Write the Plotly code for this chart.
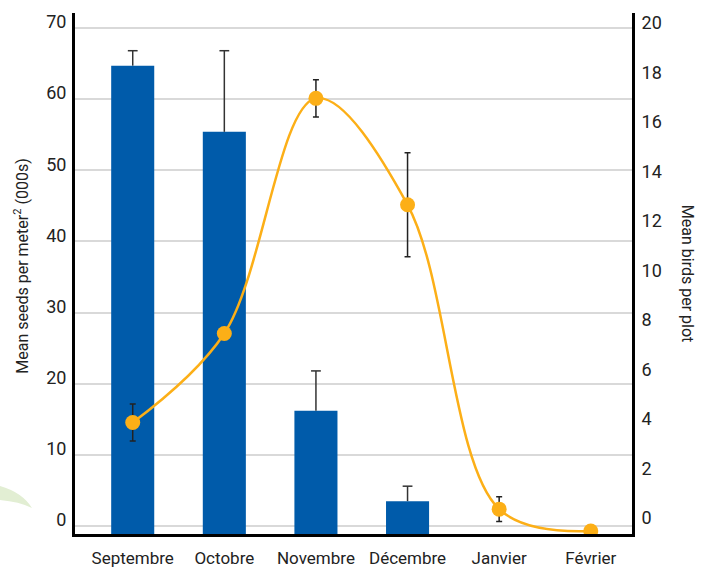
import plotly.graph_objects as go

months = ["Septembre", "Octobre", "Novembre", "Décembre", "Janvier", "Février"]
seeds = [64.7, 55.4, 16.2, 3.5, None, None]
seeds_err = [2.1, 11.4, 5.6, 2.1, None, None]
birds = [4.1, 7.7, 17.2, 12.9, 0.6, -0.28]
birds_err = [0.75, 0, 0.75, 2.1, 0.5, 0]

left_ticks = [0, 10, 20, 30, 40, 50, 60, 70]
right_ticks = [0, 2, 4, 6, 8, 10, 12, 14, 16, 18, 20]

left_range = [-1.12, 72.1]
right_range = [-0.404, 20.65]

FONT = "Roboto, sans-serif"
BLUE = "#005BAA"
ORANGE = "#FCAF17"

xs = list(range(len(months)))

fig = go.Figure()
# bars rise from the bottom axis line
fig.add_trace(go.Bar(
    x=xs,
    y=[(v - left_range[0]) if v is not None else None for v in seeds],
    base=[left_range[0]] * len(months),
    width=0.47,
    marker=dict(color=BLUE, line=dict(width=0)),
    yaxis="y", showlegend=False, hoverinfo="skip",
))
# upper-only error bars on the bars
ex, ey = [], []
cx, cy = [], []
for i, (v, e) in enumerate(zip(seeds, seeds_err)):
    if v is None:
        continue
    ex += [i, i, None]
    ey += [v, v + e, None]
    cx.append(i)
    cy.append(v + e)
fig.add_trace(go.Scatter(
    x=ex, y=ey, mode="lines", line=dict(color="#333333", width=1.5),
    yaxis="y", showlegend=False, hoverinfo="skip",
))
fig.add_trace(go.Scatter(
    x=cx, y=cy, mode="markers",
    marker=dict(symbol="line-ew", size=7, line=dict(color="#333333", width=1.5)),
    yaxis="y", showlegend=False, hoverinfo="skip",
))
fig.add_trace(go.Scatter(
    x=xs,
    y=birds,
    mode="lines+markers",
    line=dict(color=ORANGE, width=2.5, shape="spline", smoothing=1.0),
    marker=dict(color=ORANGE, size=15),
    error_y=dict(type="data", array=birds_err, color="#222222", thickness=1.5, width=3),
    yaxis="y2", showlegend=False,
))

fig.update_layout(
    width=708, height=569,
    margin=dict(l=75, r=76, t=13, b=35, autoexpand=False),
    paper_bgcolor="white", plot_bgcolor="white",
    font=dict(family=FONT, size=17, color="#222222"),
    xaxis=dict(
        range=[-0.63, 5.45], automargin=False,
        tickvals=xs, ticktext=months,
        showgrid=False, zeroline=False,
        showline=True, linecolor="black", linewidth=3,
        ticks="", tickfont=dict(size=17), ticklabelstandoff=7,
    ),
    yaxis=dict(
        range=left_range, tickvals=left_ticks, automargin=False,
        showgrid=True, gridcolor="#d9d9d9", gridwidth=1.5,
        zeroline=False, showline=True, linecolor="black", linewidth=3,
        ticks="", ticklabelstandoff=2, ticklabelshift=-6, tickfont=dict(size=18),
    ),
    yaxis2=dict(
        range=right_range, tickvals=right_ticks, overlaying="y", side="right",
        automargin=False,
        showgrid=False, zeroline=False, showline=True, linecolor="black", linewidth=3,
        ticks="", ticklabelstandoff=3, ticklabelshift=-6, tickfont=dict(size=18),
    ),
    shapes=[
        dict(type="path", xref="paper", yref="paper",
             path="M -0.1347,0.0921 Q -0.095,0.08 -0.0772,0.0499 Q -0.1,0.062 -0.1347,0.0653 Z",
             fillcolor="#e2eed3", line=dict(width=0), layer="below"),
    ],
    annotations=[
        dict(text="Mean seeds per meter<sup>2</sup> (000s)", xref="paper", yref="paper",
             x=-0.095, y=0.515, xanchor="center", yanchor="middle", textangle=-90,
             showarrow=False, font=dict(size=16)),
        dict(text="Mean birds per plot", xref="paper", yref="paper",
             x=1.1, y=0.50, xanchor="center", yanchor="middle", textangle=90,
             showarrow=False, font=dict(size=16)),
    ],
)

fig.write_html("out.html")
